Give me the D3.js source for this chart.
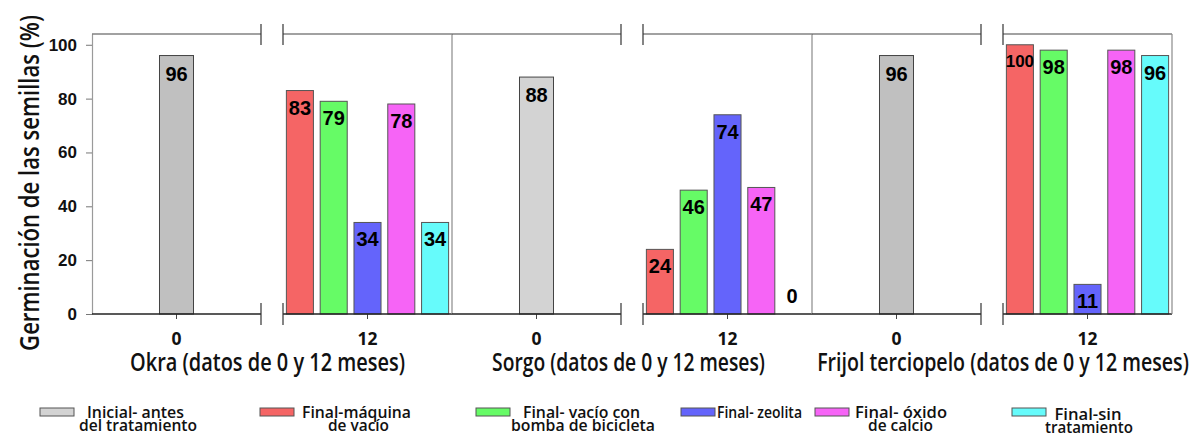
<!DOCTYPE html>
<html>
<head>
<meta charset="utf-8">
<script src="https://cdn.jsdelivr.net/npm/d3@7"></script>
<style>
  body { margin: 0; background: #fff; }
  svg { display: block; }
</style>
</head>
<body>
<script>
// ---------- DATA ----------
const crops = ["Okra", "Sorgo", "Frijol terciopelo"];
const periods = ["0", "12"];
const treatments = ["Final-máquina de vacío", "Final- vacío con bomba de bicicleta", "Final- zeolita", "Final- óxido de calcio", "Final-sin tratamiento"];
const initialValues = [96, 88, 96];
const okra12 = [83, 79, 34, 78, 34];
const sorgo12 = [24, 46, 74, 47, 0];
const frijol12 = [100, 98, 11, 98, 96];
const yTicks = [0, 20, 40, 60, 80, 100];
const groupLabels = ["Okra (datos de 0 y 12 meses)", "Sorgo (datos de 0 y 12 meses)", "Frijol terciopelo (datos de 0 y 12 meses)"];
const yTitle = "Germinación de las semillas (%)";
const legendLabels = [
  ["Inicial- antes", "del tratamiento"],
  ["Final-máquina", "de vacío"],
  ["Final- vacío con", "bomba de bicicleta"],
  ["Final- zeolita"],
  ["Final- óxido", "de calcio"],
  ["Final-sin", "tratamiento"]
];

// ---------- STYLE / LAYOUT ----------
const initialColors = ["#c0c0c0", "#d3d3d3", "#c0c0c0"];
const treatmentColors = ["#f56565", "#66fb66", "#6464fb", "#f664f6", "#66fbfb"];
const legendColors = ["#d3d3d3"].concat(treatmentColors);
const finals = [okra12, sorgo12, frijol12];

const W = 1200, H = 437;
const plotLeft = 92, plotRight = 1172, plotTop = 34, plotBottom = 314;
const condensed = "'Open Sans', 'Noto Sans', sans-serif";
const arial = "'Liberation Sans', Arial, sans-serif";

const svg = d3.select("body").append("svg").attr("width", W).attr("height", H);

// place a text at (x, y) and squeeze it horizontally to a target width
function condensedText(parent, str, x, y, target, opts) {
  const t = parent.append("text").attr("x", 0).attr("y", 0).attr("text-anchor", "middle")
    .attr("font-family", condensed).attr("font-weight", opts.weight).attr("font-size", opts.size)
    .attr("fill", "#111").text(str);
  const n = t.node().getComputedTextLength();
  const k = target / n;
  t.attr("transform", `translate(${x},${y})${opts.rotate ? " rotate(" + opts.rotate + ")" : ""} scale(${k},1)`);
  return t;
}

const y = d3.scaleLinear().domain([0, 104]).range([plotBottom, plotTop]);
const xCrop = d3.scaleBand().domain(crops).range([plotLeft, plotRight]);
const xPeriod = d3.scaleBand().domain(periods).range([0, xCrop.bandwidth()]).paddingInner(22 / 191);
const xTreat = d3.scaleBand().domain(treatments).range([0, xPeriod.bandwidth()]).paddingInner(0.2).paddingOuter(0.1);
const xInit = d3.scaleBand().domain(["Inicial"]).range([0, xPeriod.bandwidth()]).paddingOuter(1.985);

// ---------- Y AXIS ----------
const yAxis = svg.append("g")
  .attr("transform", `translate(${plotLeft},0)`)
  .call(d3.axisLeft(y).tickValues(yTicks).tickSize(6).tickSizeOuter(0).tickPadding(9));
yAxis.select(".domain").attr("stroke", "#9a9a9a").attr("stroke-width", 1.2);
yAxis.selectAll(".tick line").attr("stroke", "#777");
yAxis.selectAll(".tick text")
  .attr("font-family", arial).attr("font-weight", "bold").attr("font-size", 17).attr("fill", "#111");

// ---------- PANELS ----------
crops.forEach((c, ci) => {
  periods.forEach((p) => {
    const x0 = xCrop(c) + xPeriod(p), x1 = x0 + xPeriod.bandwidth();
    const g = svg.append("g");
    g.append("line").attr("x1", x0).attr("x2", x1).attr("y1", plotTop).attr("y2", plotTop)
      .attr("stroke", "#444").attr("stroke-width", 1.2);
    const cx = x0 + xPeriod.bandwidth() / 2;
    g.append("line").attr("x1", cx).attr("x2", cx).attr("y1", plotBottom).attr("y2", plotBottom + 5)
      .attr("stroke", "#444");
    condensedText(g, p, cx, plotBottom + 31, p.length * 10, { weight: 700, size: 18 });

    if (p === "0") {
      const v = initialValues[ci];
      const bx = x0 + xInit("Inicial"), bw = xInit.bandwidth();
      g.append("rect").attr("x", bx).attr("y", y(v)).attr("width", bw).attr("height", y(0) - y(v))
        .attr("fill", initialColors[ci]).attr("stroke", "#444").attr("stroke-width", 1);
      g.append("text").attr("x", bx + bw / 2).attr("y", y(v) + 25).attr("text-anchor", "middle")
        .attr("font-family", arial).attr("font-weight", "bold").attr("font-size", 20).attr("fill", "#000")
        .text(v);
    } else {
      finals[ci].forEach((v, ti) => {
        const t = treatments[ti];
        const bx = x0 + xTreat(t), bw = xTreat.bandwidth();
        if (v > 0) {
          g.append("rect").attr("x", bx).attr("y", y(v)).attr("width", bw).attr("height", y(0) - y(v))
            .attr("fill", treatmentColors[ti]).attr("stroke", "#555").attr("stroke-width", 1);
        }
        const label = String(v);
        const fs = label.length > 2 ? 17 : 20;
        const ly = v > 0 ? y(v) + (label.length > 2 ? 22 : 24) : y(0) - 11;
        g.append("text").attr("x", bx + bw / 2 - (v > 0 ? 0 : 3)).attr("y", ly).attr("text-anchor", "middle")
          .attr("font-family", arial).attr("font-weight", "bold").attr("font-size", fs).attr("fill", "#000")
          .text(label);
      });
    }
    // bottom axis line (drawn over bars)
    g.append("line").attr("x1", x0).attr("x2", x1).attr("y1", plotBottom).attr("y2", plotBottom)
      .attr("stroke", "#222").attr("stroke-width", 1.5);
  });

  // break marks
  const bL = xCrop(c) + xPeriod("0") + xPeriod.bandwidth();
  const bR = xCrop(c) + xPeriod("12");
  [bL, bR].forEach(bx => {
    [[plotTop - 10, plotTop + 11], [plotBottom - 11, plotBottom + 11]].forEach(([a, b]) => {
      svg.append("line").attr("x1", bx).attr("x2", bx).attr("y1", a).attr("y2", b)
        .attr("stroke", "#333").attr("stroke-width", 1.2);
    });
  });

  // right boundary line of the crop block
  const rx = xCrop(c) + xCrop.bandwidth();
  svg.append("line").attr("x1", rx).attr("x2", rx).attr("y1", plotTop).attr("y2", plotBottom)
    .attr("stroke", "#8a8a8a").attr("stroke-width", 1.2);
});

// ---------- GROUP LABELS ----------
const groupLabelPos = [[267.5, 275], [628.5, 273], [1003, 372]];
groupLabels.forEach((t, i) => {
  condensedText(svg, t, groupLabelPos[i][0], 371, groupLabelPos[i][1], { weight: 600, size: 25 });
});

// ---------- Y TITLE ----------
condensedText(svg, yTitle, 39, 183, 336, { weight: 600, size: 27, rotate: -90 });

// ---------- LEGEND ----------
const legendBoxes = [40, 260, 476, 681, 815, 1012];
const legendText = [
  [[135.5, 97], [138, 118]],
  [[356.5, 109], [358.5, 61]],
  [[581.5, 117], [583, 144]],
  [[759.5, 85]],
  [[901, 92], [900.5, 65]],
  [[1088, 67], [1089, 88]]
];
legendLabels.forEach((lines, i) => {
  const g = svg.append("g");
  g.append("rect").attr("x", legendBoxes[i]).attr("y", 408).attr("width", 34).attr("height", 8)
    .attr("fill", legendColors[i]).attr("stroke", "#555").attr("stroke-width", 1);
  const txt = g.append("text").attr("text-anchor", "middle")
    .attr("font-family", condensed).attr("font-weight", 600).attr("font-size", 16).attr("fill", "#111");
  lines.forEach((ln, li) => {
    const [cx, w] = legendText[i][li];
    const base = (i === 5 ? 420 : 418) + li * 13;
    txt.append("tspan").attr("x", cx).attr("y", base)
      .attr("textLength", w).attr("lengthAdjust", "spacingAndGlyphs")
      .text(ln);
  });
});
</script>
</body>
</html>
